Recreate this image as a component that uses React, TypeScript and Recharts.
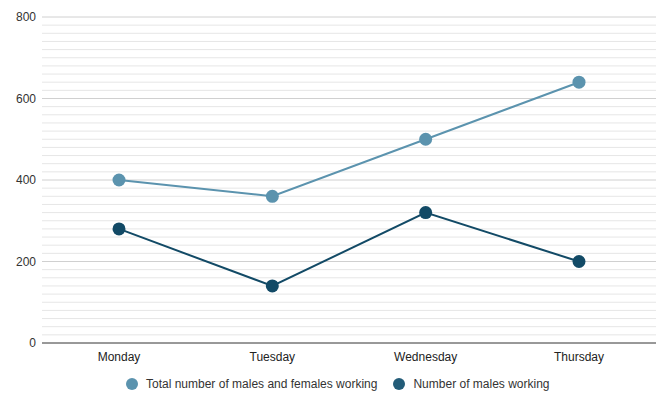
import React from 'react';
import { LineChart, Line, XAxis, YAxis, ReferenceLine } from 'recharts';

const days = ['Monday', 'Tuesday', 'Wednesday', 'Thursday'];
const totalWorking = [400, 360, 500, 640];
const malesWorking = [280, 140, 320, 200];
const yTicks = [0, 200, 400, 600, 800];
const minorGrid = [20, 40, 60, 80, 100, 120, 140, 160, 180, 220, 240, 260, 280, 300, 320, 340, 360, 380, 420, 440, 460, 480, 500, 520, 540, 560, 580, 620, 640, 660, 680, 700, 720, 740, 760, 780];

const TOTAL_NAME = 'Total number of males and females working';
const MALES_NAME = 'Number of males working';
const LIGHT = '#5b93ae';
const DARK = '#124a66';

const data = days.map((d, i) => ({ day: d, total: totalWorking[i], males: malesWorking[i] }));

const font = 'Arial, "Liberation Sans", sans-serif';

export default function App() {
  return (
    <div style={{ position: 'absolute', left: 0, top: 0, width: 660, height: 397, background: '#fff', fontFamily: font }}>
      <LineChart width={660} height={397} data={data} margin={{ top: 17, right: 4, left: 0, bottom: 30 }}>
        {minorGrid.map((v) => (
          <ReferenceLine key={'m' + v} y={v} stroke="#e6e6e6" strokeWidth={1} />
        ))}
        {yTicks.slice(1).map((v) => (
          <ReferenceLine key={'M' + v} y={v} stroke="#d0d0d0" strokeWidth={1} />
        ))}
        <XAxis
          dataKey="day"
          height={24}
          padding={{ left: 77, right: 77 }}
          tickLine={false}
          axisLine={{ stroke: '#333', strokeWidth: 1 }}
          tick={{ fill: '#222', fontSize: 12, fontFamily: font }}
          tickMargin={3}
        />
        <YAxis
          width={42}
          domain={[0, 800]}
          ticks={yTicks}
          axisLine={false}
          tickLine={false}
          tick={{ fill: '#333', fontSize: 12, fontFamily: font }}
          tickMargin={0}
        />
        <Line
          type="linear"
          dataKey="total"
          name={TOTAL_NAME}
          stroke={LIGHT}
          strokeWidth={2}
          dot={{ r: 6.5, fill: LIGHT, stroke: LIGHT, strokeWidth: 0 }}
          isAnimationActive={false}
        />
        <Line
          type="linear"
          dataKey="males"
          name={MALES_NAME}
          stroke={DARK}
          strokeWidth={2}
          dot={{ r: 6.5, fill: DARK, stroke: DARK, strokeWidth: 0 }}
          isAnimationActive={false}
        />
      </LineChart>
      <div style={{ position: 'absolute', left: 126, top: 377, display: 'flex', alignItems: 'center', fontSize: 12, color: '#333', whiteSpace: 'nowrap' }}>
        <span style={{ display: 'inline-block', width: 12, height: 12, borderRadius: 6, background: LIGHT, marginRight: 8 }} />
        <span>{TOTAL_NAME}</span>
        <span style={{ display: 'inline-block', width: 12, height: 12, borderRadius: 6, background: '#235c78', marginLeft: 16, marginRight: 8 }} />
        <span>{MALES_NAME}</span>
      </div>
    </div>
  );
}
